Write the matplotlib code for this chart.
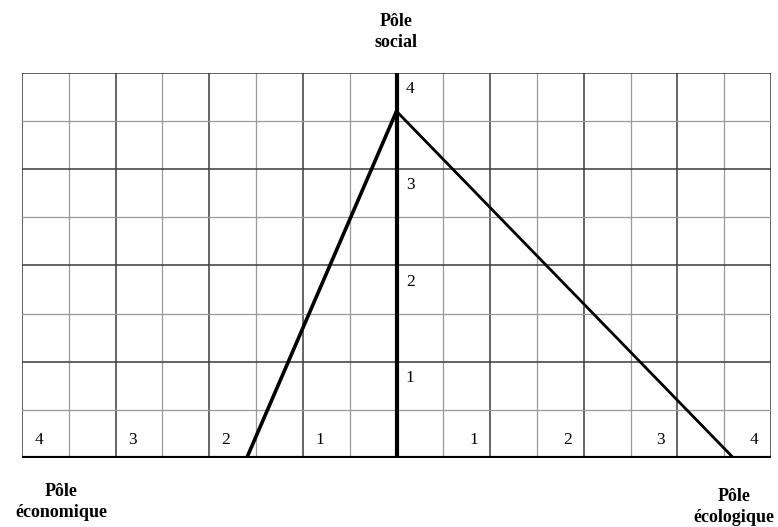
import numpy as np
import matplotlib.pyplot as plt

plt.rcParams['font.family'] = ['Liberation Serif', 'DejaVu Serif']

# scores on the three poles
poles = ['économique', 'social', 'écologique']
scores = [1.6, 3.6, 3.6]

left_ticks = [4, 3, 2, 1]
right_ticks = [1, 2, 3, 4]
up_ticks = [1, 2, 3, 4]

fig = plt.figure(figsize=(7.78, 5.27), dpi=100)
ax = fig.add_axes([0.0283, 0.1309, 0.9627, 0.7311])
ax.set_xlim(-4, 4)
ax.set_ylim(0, 4)
ax.axis('off')

# grid: half units lighter, whole units darker
for v in np.arange(-4, 4.01, 0.5):
    major = float(v).is_integer()
    ax.axvline(v, color='#3a3a3a' if major else '#999999',
               lw=1.1 if major else 0.9, zorder=1)
for h in np.arange(0.5, 4.01, 0.5):
    major = float(h).is_integer()
    ax.axhline(h, color='#3a3a3a' if major else '#999999',
               lw=1.1 if major else 0.9, zorder=1)

# main axes
ax.axhline(0, color='black', lw=3, zorder=3)
ax.axvline(0, color='black', lw=3, zorder=3)

# triangle
eco, soc, ecl = scores
ax.plot([-eco, 0], [0, soc], color='black', lw=2.6, zorder=4,
        solid_capstyle='round')
ax.plot([0, ecl], [soc, 0], color='black', lw=2.0, zorder=4,
        solid_capstyle='round')

# scale numbers
for t in left_ticks:
    ax.text(-t + 0.13, 0.19, str(t), fontsize=12.5, ha='left', va='center')
for t in right_ticks:
    ax.text(t - 0.13, 0.19, str(t), fontsize=12.5, ha='right', va='center')
for t in up_ticks:
    ax.text(0.1, t - 0.17, str(t), fontsize=12.5, ha='left', va='center')

# pole titles
fig.text(396 / 778, 1 - 32 / 527, 'Pôle\nsocial', fontsize=13,
         fontweight='bold', ha='center', va='center', linespacing=1.3)
fig.text(61 / 778, 1 - 502 / 527, 'Pôle\n' + poles[0], fontsize=13,
         fontweight='bold', ha='center', va='center', linespacing=1.3)
fig.text(734 / 778, 1 - 507 / 527, 'Pôle\n' + poles[2], fontsize=13,
         fontweight='bold', ha='center', va='center', linespacing=1.3)

fig.savefig('out.png', dpi=100, facecolor='white')
